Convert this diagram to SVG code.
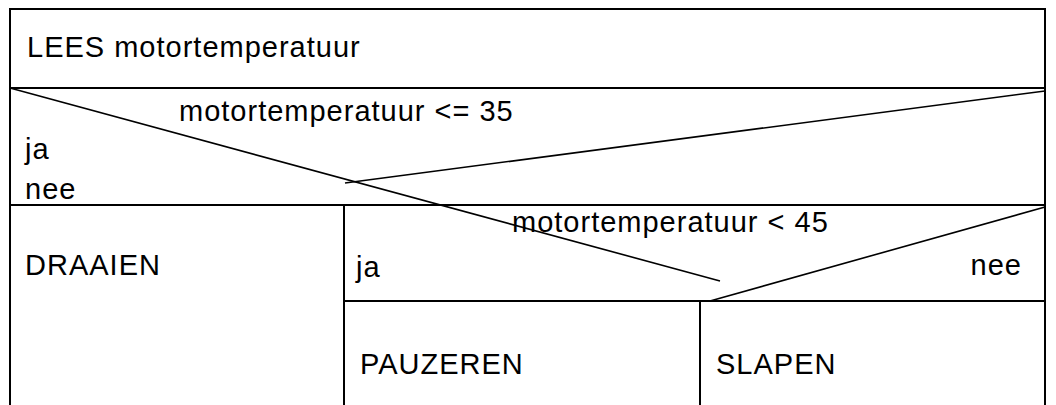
<svg xmlns="http://www.w3.org/2000/svg" width="1056" height="405" viewBox="0 0 1056 405">
<style>
.box{fill:#fff;stroke:#000;stroke-width:2}
.ln{stroke:#000;stroke-width:1.6;fill:none}
text{font-family:"Liberation Sans",Arial,sans-serif;font-size:29px;letter-spacing:1px;fill:#000}
</style>
<rect width="1056" height="405" fill="#fff"/>
<g id="lees">
<rect class="box" x="10" y="9" width="1035" height="79"/>
<text x="27" y="57">LEES motortemperatuur</text>
</g>
<g id="cond1">
<rect class="box" x="10" y="88" width="1035" height="117"/>
<text x="179" y="121">motortemperatuur &lt;= 35</text>
<text x="25" y="159">ja</text>
<text x="25" y="199">nee</text>
</g>
<g id="draaien">
<rect class="box" x="10" y="205" width="334" height="210"/>
<text x="25" y="275">DRAAIEN</text>
</g>
<g id="cond2">
<rect class="box" x="344" y="205" width="701" height="96"/>
<text x="512" y="232">motortemperatuur &lt; 45</text>
<text x="356" y="277">ja</text>
<text x="1022" y="275" text-anchor="end">nee</text>
</g>
<g id="pauzeren">
<rect class="box" x="344" y="301" width="356" height="114"/>
<text x="360" y="374">PAUZEREN</text>
</g>
<g id="slapen">
<rect class="box" x="700" y="301" width="345" height="114"/>
<text x="716" y="374">SLAPEN</text>
</g>
<g id="connectors">
<line class="ln" x1="10" y1="88" x2="720" y2="281"/>
<line class="ln" x1="1045" y1="91" x2="345" y2="183"/>
<line class="ln" x1="1045" y1="207" x2="710" y2="301"/>
</g>
</svg>
